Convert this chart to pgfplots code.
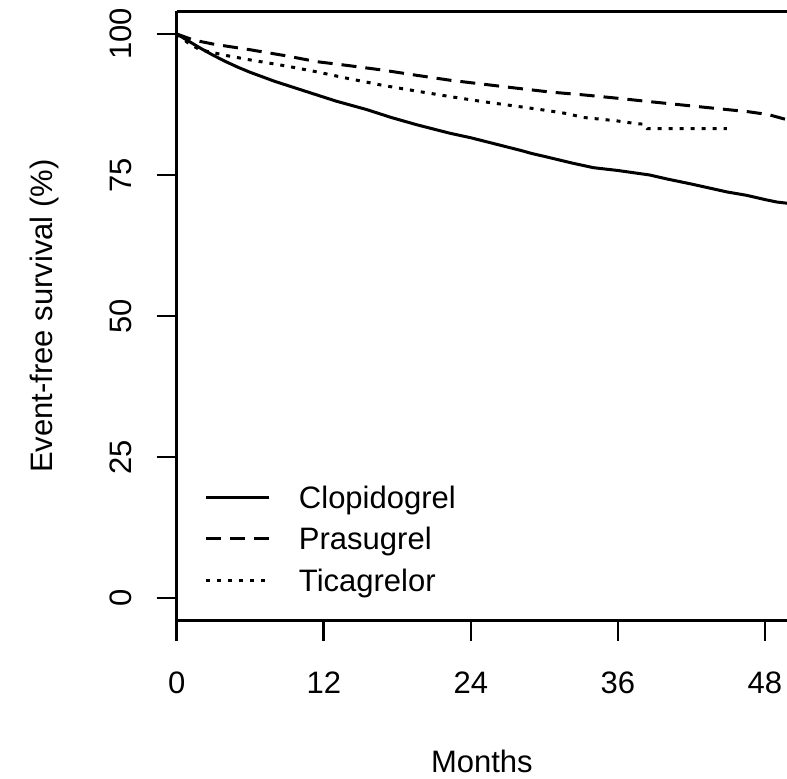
\documentclass[border=0pt]{standalone}
\usepackage{fontspec}
\setmainfont{Liberation Sans}
\usepackage{pgfplots}
\pgfplotsset{compat=1.18}

\begin{document}
\fontsize{15.5bp}{18bp}\selectfont
\begin{tikzpicture}
\begin{axis}[
  at={(0,0)}, anchor=south west,
  scale only axis,
  width=305.15bp, height=304.65bp,
  xmin=0, xmax=49.8,
  ymin=-4, ymax=104,
  axis x line*=box, axis y line*=left,
  xtick pos=left, ytick pos=left,
  xtick={0,12,24,36,48},
  ytick={0,25,50,75,100},
  tick align=outside,
  major tick length=10bp,
  axis line style={line width=1.3bp, black},
  major tick style={line width=1.3bp, black},
  /pgf/number format/assume math mode=true,
  xticklabel style={anchor=base},
  xticklabel shift=26.3bp,
  yticklabel style={rotate=90, anchor=base},
  yticklabel shift=12.5bp,
  xlabel={Months},
  ylabel={Event-free survival (\%)},
  xlabel style={at={(axis description cs:0.5,0)}, anchor=base, yshift=-76bp},
  ylabel style={at={(axis description cs:0,0.5)}, anchor=base, yshift=62bp},
  legend image code/.code={\draw[#1] (0bp,5.5bp) -- (31.5bp,5.5bp);},
  legend cell align=left,
  legend style={draw=none, fill=none, inner sep=0pt, outer sep=0pt,
    at={(axis description cs:0,0)}, anchor=south west,
    xshift=14.15bp, yshift=14.5bp,
    row sep=9.9bp, column sep=14bp,
    nodes={inner sep=0pt, outer sep=0pt, text height=11bp, text depth=0pt, anchor=base west}},
  every axis plot/.append style={line width=1.5bp, black},
]
% Clopidogrel
\addplot[solid] coordinates {
 (0,100) (1,98.7) (2,97.4) (3,96.2) (4,95.1) (5,94.1) (6,93.2) (7,92.4)
 (8,91.6) (9,90.9) (10,90.2) (11,89.5) (12,88.8) (13,88.1) (14,87.5)
 (15.5,86.6) (17.5,85.2) (19.6,83.9) (22.3,82.4) (24,81.6) (26,80.5)
 (28,79.4) (29,78.8) (30,78.3) (32.3,77.1) (34,76.3) (36,75.8) (38.6,75.0)
 (40,74.3) (42,73.4) (44.9,72.0) (46.5,71.4) (48.1,70.6) (49,70.2) (49.8,70.0)
};
\addlegendentry{Clopidogrel}
% Prasugrel
\addplot[dash pattern=on 7.5bp off 4.5bp] coordinates {
 (0,100) (1.4,98.9) (3,98.2) (6,97.2) (9,96.1) (11.4,95.1) (14,94.4) (16.8,93.6)
 (19.5,92.7) (22.3,91.8) (25,91.1) (27.7,90.4) (30.5,89.7) (33.2,89.2) (36,88.6)
 (38.6,88.0) (41.3,87.4) (44,86.8) (46.7,86.2) (48.3,85.7) (49.8,84.8)
};
\addlegendentry{Prasugrel}
% Ticagrelor
\addplot[dash pattern=on 2bp off 3.5bp] coordinates {
 (0,100) (1,98.3) (1.9,97.2) (4,96.2) (6,95.4) (9,94.3) (11.4,93.3) (14,92.1)
 (16.8,90.9) (19.5,89.9) (22.3,88.9) (25,88.0) (27.7,87.2) (30,86.5) (31.8,85.9)
 (33.2,85.2) (35.9,84.6) (37.5,84.1) (38.2,84.0) (38.4,83.2) (44.9,83.2)
};
\addlegendentry{Ticagrelor}
\end{axis}
\pgfresetboundingbox
\useasboundingbox (-88.35bp,-79.15bp) rectangle (305.15bp,310.35bp);
\end{tikzpicture}
\end{document}
